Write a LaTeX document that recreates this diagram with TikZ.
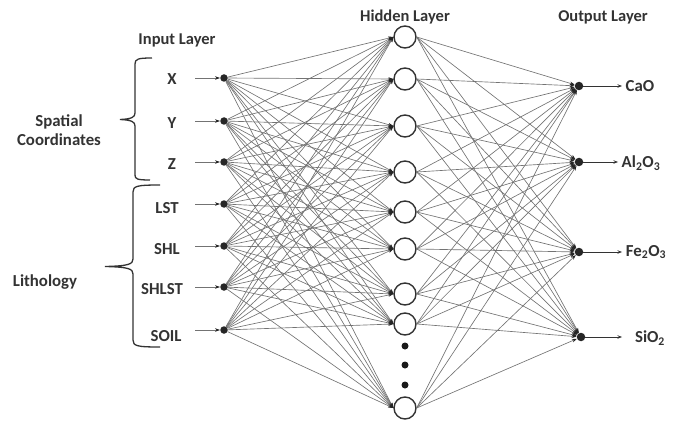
\documentclass[tikz,border=0pt]{standalone}
\usepackage{fontspec}
\setmainfont{Carlito}
\usetikzlibrary{arrows.meta}

\begin{document}
\begin{tikzpicture}[x=1pt,y=-1pt,
  lbl/.style={font=\bfseries\fontsize{16.8}{19}\selectfont, text=black!80, inner sep=0pt},
  ttl/.style={font=\bfseries\fontsize{16.5}{19}\selectfont, text=black!80, inner sep=0pt},
  indot/.style={circle, fill=black!85, minimum size=7.5pt, inner sep=0pt},
  outdot/.style={circle, fill=black!85, minimum size=8.5pt, inner sep=0pt},
  hid/.style={circle, draw=black!80, line width=1.4pt, minimum size=22pt, inner sep=0pt, fill=white},
  more/.style={circle, fill=black!90, minimum size=7pt, inner sep=0pt},
  link/.style={draw=black!55, line width=0.65pt, -{Stealth[length=5pt,width=3.5pt,color=black!85]}},
  feed/.style={draw=black!55, line width=0.7pt, -{Stealth[length=5pt,width=3.5pt,color=black!85]}},
  emit/.style={draw=black!80, line width=0.7pt, -{Stealth[length=4.5pt,width=3.5pt]}},
  bracestyle/.style={draw=black!80, line width=1.3pt}
]
\useasboundingbox (0,0) rectangle (679,422);

% titles
\node[ttl] (tin)  at (177,40) {Input Layer};
\node[ttl] (thid) at (405,17) {Hidden Layer};
\node[ttl] (tout) at (603,17) {Output Layer};

% input layer
\foreach \n/\y/\lx/\ly/\t in {1/78/172/79/X, 2/121/172/123/Y, 3/162/172/164/Z,
    4/204/167/208/LST, 5/246/167/249/SHL, 6/287/162/289/SHLST, 7/330/166/336/SOIL} {
  \node[indot] (i\n) at (224,\y) {};
  \node[lbl] (l\n) at (\lx,\ly) {\t};
  \coordinate (s\n) at (195,\y);
  \draw[feed] (s\n) -- (i\n.west);
}

% hidden layer
\foreach \n/\y in {1/37, 2/79, 3/126, 4/172, 5/212, 6/249, 7/294, 8/324, 9/408} {
  \node[hid] (h\n) at (405,\y) {};
}
\node[more] (m1) at (405,346) {};
\node[more] (m2) at (405,365) {};
\node[more] (m3) at (405,385) {};

% output layer
\node[outdot] (o1) at (579,86) {};
\node[outdot] (o2) at (579,162) {};
\node[outdot] (o3) at (579,252) {};
\node[outdot] (o4) at (581,337) {};
\coordinate (e1) at (622,86);
\coordinate (e2) at (618,162);
\coordinate (e3) at (622,252);
\coordinate (e4) at (622,337);
\node[lbl] (r1) at (640,86) {CaO};
\node[lbl] (r2) at (641,163) {Al\textsubscript{2}O\textsubscript{3}};
\node[lbl] (r3) at (646,252) {Fe\textsubscript{2}O\textsubscript{3}};
\node[lbl] (r4) at (650,338) {SiO\textsubscript{2}};
\foreach \k in {1,...,4} \draw[emit] (o\k) -- (e\k);

% connections
\foreach \i in {1,...,7}
  \foreach \j in {1,...,9}
    \draw[link] (i\i) -- (h\j.west);
\foreach \j in {1,...,9}
  \foreach \k in {1,...,4}
    \draw[link] (h\j.east) -- (o\k);

% braces and group labels
\draw[bracestyle] (152,58) .. controls (138,58) and (135,59) .. (135,64) -- (135,113)
  .. controls (135,117) and (132,119) .. (120,119.5)
  .. controls (132,120) and (135,122) .. (135,126) -- (135,175)
  .. controls (135,179) and (137,180) .. (150,180);
\draw[bracestyle] (160,185) .. controls (137,185) and (133,186) .. (133,192) -- (133,259)
  .. controls (133,264) and (129,266) .. (105,266.5)
  .. controls (129,267) and (133,269) .. (133,274) -- (133,340)
  .. controls (133,346) and (137,347) .. (160,347);
\node[lbl, align=center] (g1) at (59,130) {Spatial\\Coordinates};
\node[lbl] (g2) at (45,282) {Lithology};
\end{tikzpicture}
\end{document}
